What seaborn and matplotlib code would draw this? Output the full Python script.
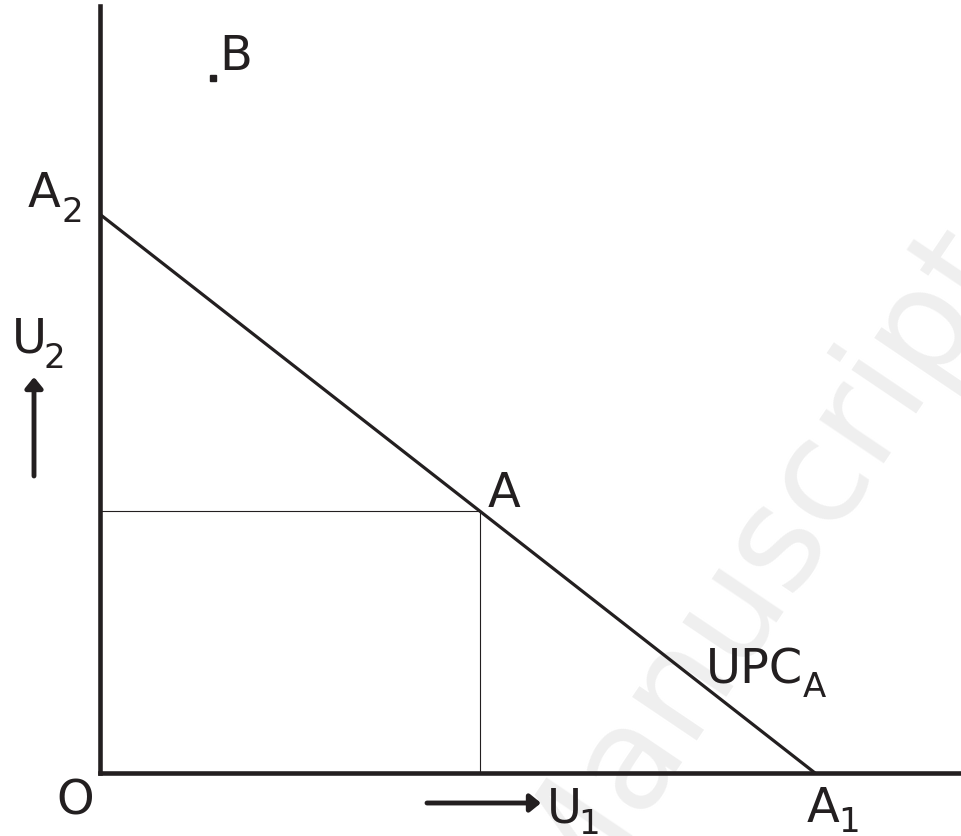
import numpy as np
import pandas as pd
import matplotlib
matplotlib.use('Agg')
import matplotlib.pyplot as plt
import seaborn as sns

# utility possibility curve, in utility units
upc_u1 = [0, 10]
upc_u2 = [10, 0]
point_a = (5.32, 4.68)
point_b = (1.58, 12.43)
x_max = 12.04
y_max = 13.72

ink = '#231f20'
W, H = 961, 837

sns.set_style('white')
plt.rcParams['font.family'] = ['DejaVu Sans']

fig = plt.figure(figsize=(W / 100, H / 100), dpi=100)
ax = fig.add_axes([99.5 / W, (H - 774) / H, (W - 99.5) / W, (774 - 7) / H])
ax.patch.set_alpha(0)

df = pd.DataFrame({'U1': upc_u1, 'U2': upc_u2})
sns.lineplot(data=df, x='U1', y='U2', color=ink, lw=2.3, ax=ax, zorder=3)

# guide lines to point A
ax.plot([0, point_a[0]], [point_a[1], point_a[1]], color=ink, lw=0.8, zorder=2)
ax.plot([point_a[0], point_a[0]], [0, point_a[1]], color=ink, lw=0.8, zorder=2)

ax.plot([point_b[0]], [point_b[1]], marker='s', ms=4.5, color=ink, mec=ink, zorder=3)

ax.set_xlim(0, x_max)
ax.set_ylim(0, y_max)
ax.set_xticks([])
ax.set_yticks([])
ax.set_xlabel('')
ax.set_ylabel('')
sns.despine(ax=ax)
for side in ['left', 'bottom']:
    ax.spines[side].set_linewidth(3.3)
    ax.spines[side].set_color(ink)


def px(x, y):
    # reference pixel position -> data coords
    return ax.transData.inverted().transform((x, H - y))


# main letter, sub text, positions (left, baseline) of each
labels = [
    ('A', '2', (28, 207), (62, 222)),
    ('B', '', (219, 70), None),
    ('U', '2', (12, 353), (44, 368)),
    ('A', '', (488, 507), None),
    ('UPC', 'A', (706, 684), (803, 697)),
    ('O', '', (56, 815), None),
    ('U', '1', (547, 823), (578, 834)),
    ('A', '1', (807, 822), (838, 832)),
]
for main, sub, pos, spos in labels:
    tx, ty = px(*pos)
    ax.text(tx, ty, main, fontsize=34.5, color=ink, ha='left', va='baseline',
            clip_on=False, zorder=4)
    if sub:
        sx, sy = px(*spos)
        ax.text(sx, sy, sub, fontsize=24.5, color=ink, ha='left', va='baseline',
                clip_on=False, zorder=4)

# direction arrows
for tail, tip in [((34, 477), (34, 378)), ((427, 804), (541, 804))]:
    ax.annotate('', xy=px(*tip), xytext=px(*tail), annotation_clip=False,
                arrowprops=dict(arrowstyle='-|>,head_length=0.32,head_width=0.26',
                                lw=3.5, color=ink, mutation_scale=20,
                                shrinkA=0, shrinkB=0))

# watermark
wx, wy = px(566, 914)
ax.text(wx, wy, 'Manuscript', fontsize=103, color='#efefef', rotation=56,
        rotation_mode='anchor', ha='left', va='baseline', zorder=0.5,
        clip_on=False)

fig.savefig('out.png', dpi=100)
